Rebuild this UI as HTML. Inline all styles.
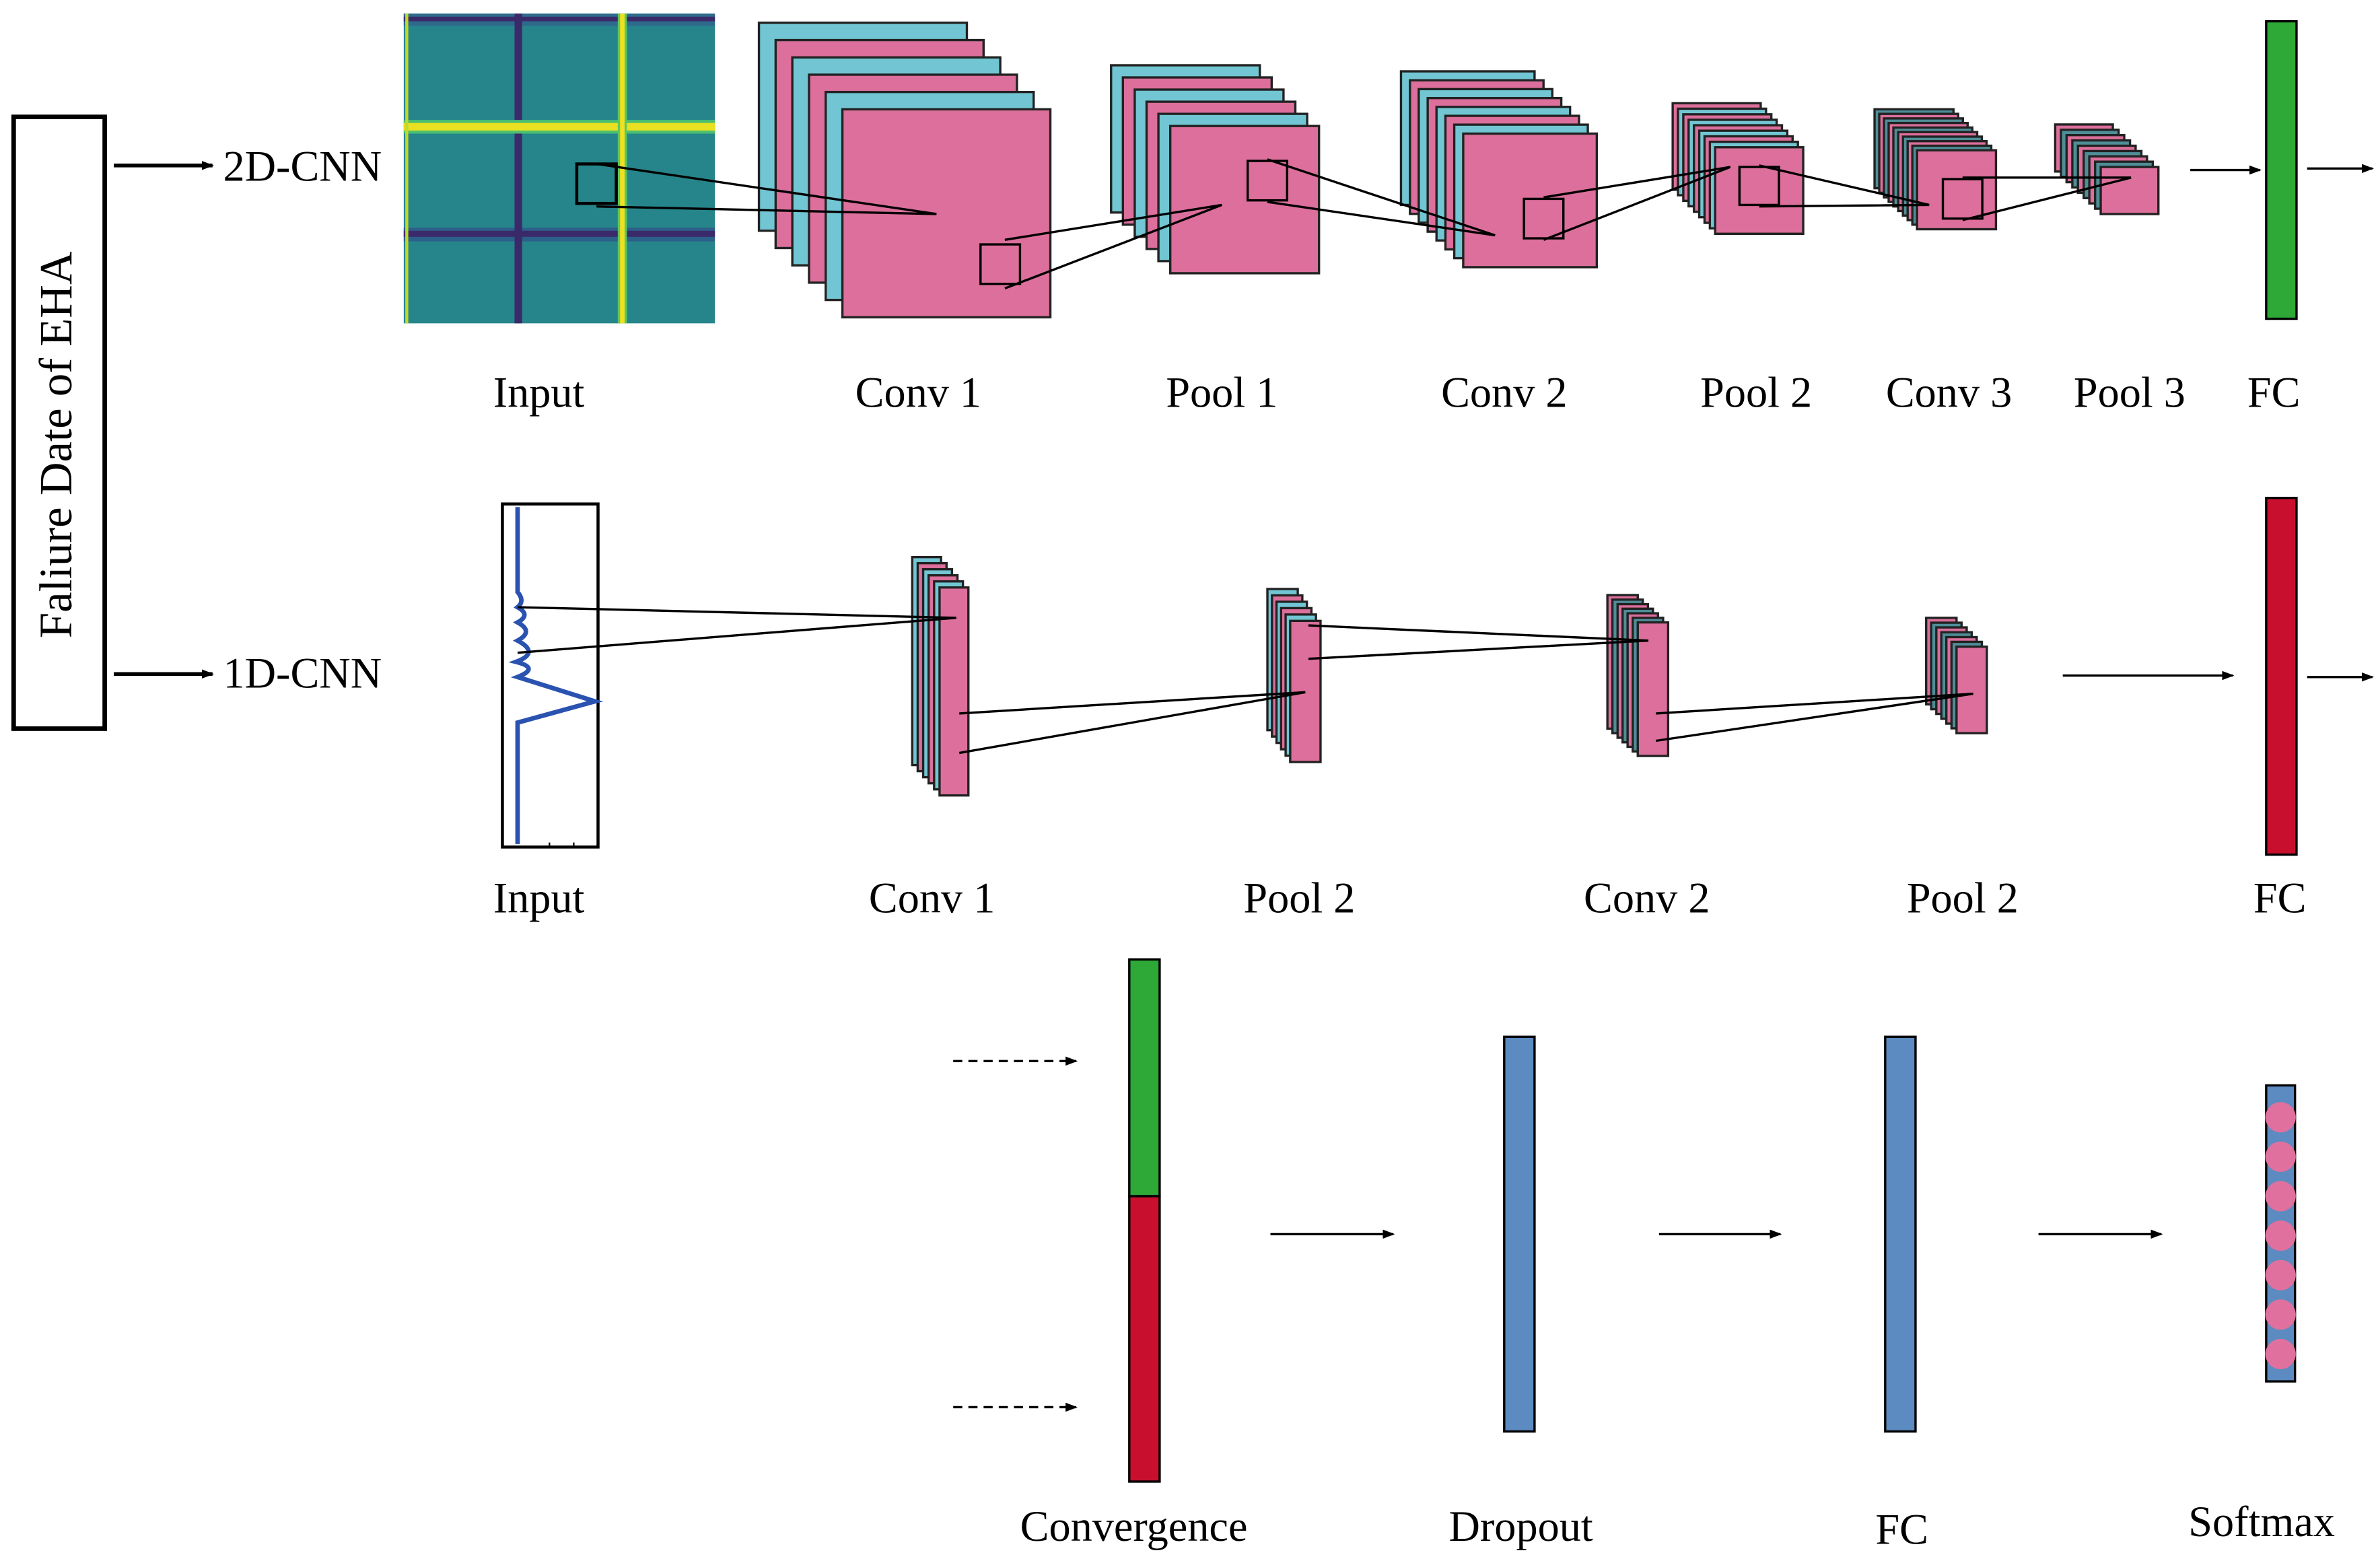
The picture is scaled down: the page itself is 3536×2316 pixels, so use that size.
<!DOCTYPE html>
<html><head><meta charset="utf-8"><style>html,body{margin:0;padding:0;background:#fff}svg{display:block}</style></head>
<body>
<svg id="s" width="3536" height="2316" viewBox="0 0 1568 1027" xmlns="http://www.w3.org/2000/svg" font-family="Liberation Serif, serif" font-size="28.5">
<defs>
<marker id="ar" markerWidth="8" markerHeight="6" refX="7" refY="3" orient="auto" markerUnits="userSpaceOnUse"><path d="M0,0 L8,3 L0,6 z" fill="#000"/></marker>
</defs>
<rect width="1568" height="1027" fill="#fff"/>
<!-- left box -->
<rect x="9" y="77" width="60" height="403" fill="#fff" stroke="#000" stroke-width="3"/>
<text transform="translate(47,293) rotate(-90)" text-anchor="middle" font-size="30.5">Faliure Date of EHA</text>
<line x1="75" y1="109" x2="140" y2="109" stroke="#000" stroke-width="2.5" marker-end="url(#ar)"/>
<line x1="75" y1="444" x2="140" y2="444" stroke="#000" stroke-width="2.5" marker-end="url(#ar)"/>
<text x="147" y="119">2D-CNN</text>
<text x="147" y="453">1D-CNN</text>
<!-- input image -->
<rect x="266" y="9" width="205" height="204" fill="#26858a"/>
<rect x="266" y="9" width="205" height="8" fill="#2f6a8c"/>
<rect x="266" y="150" width="205" height="9" fill="#2c5f8a"/>
<rect x="266" y="152" width="205" height="4" fill="#3b2a6a"/>
<rect x="266" y="11" width="205" height="3" fill="#3b2a6a"/>
<rect x="339" y="9" width="5" height="204" fill="#3b2a6a"/>
<rect x="266" y="79" width="205" height="9" fill="#4cc070"/>
<rect x="266" y="81" width="205" height="5" fill="#e8e020"/>
<rect x="407" y="9" width="6" height="204" fill="#5cc860"/>
<rect x="408.5" y="9" width="3" height="204" fill="#f0e020"/>
<rect x="267" y="9" width="2" height="204" fill="#c0d830"/>
<rect x="380" y="108" width="26" height="26" fill="none" stroke="#000" stroke-width="2"/>
<g id="stacks"></g>
<!-- 1D input -->
<rect x="331" y="332" width="63" height="226" fill="#fff" stroke="#000" stroke-width="2"/>
<path d="M341,334 L341,390 Q346,396 341,400 Q350,405 341,410 Q352,416 341,422 Q356,430 340,436 Q356,440 341,446 L392,462 L341,476 L341,556" fill="none" stroke="#2a52b0" stroke-width="3"/>
<path d="M362,558 v-3 M378,558 v-3" stroke="#000" stroke-width="1"/>
<g stroke="#000" stroke-width="1.5" fill="none">
<path d="M393,108 L617,141 M393,136 L617,141"/>
<rect x="646" y="161" width="26" height="26" stroke-width="1.5"/>
<path d="M662,158 L805,135 M662,190 L805,135"/>
<rect x="822" y="106" width="26" height="26"/>
<path d="M835,105 L985,155 M835,133 L985,155"/>
<rect x="1004" y="131" width="26" height="26"/>
<path d="M1017,130 L1140,110 M1017,158 L1140,110"/>
<rect x="1146" y="110" width="26" height="25"/>
<path d="M1159,109 L1271,135 M1159,136 L1271,135"/>
<rect x="1280" y="118" width="26" height="26"/>
<path d="M1293,117 L1404,117 M1293,145 L1404,117"/>
<path d="M341,400 L630,407 M341,430 L630,407"/>
<path d="M632,470 L860,456 M632,496 L860,456"/>
<path d="M862,412 L1086,422 M862,434 L1086,422"/>
<path d="M1091,470 L1300,457 M1091,488 L1300,457"/>
</g>
<!-- FC 2D -->
<rect x="1493" y="14" width="20" height="196" fill="#2ea836" stroke="#000" stroke-width="1.5"/>
<line x1="1443" y1="112" x2="1489" y2="112" stroke="#000" stroke-width="1.5" marker-end="url(#ar)"/>
<line x1="1520" y1="111" x2="1563" y2="111" stroke="#000" stroke-width="1.5" marker-end="url(#ar)"/>
<!-- FC 1D -->
<rect x="1493" y="328" width="20" height="235" fill="#c8102e" stroke="#000" stroke-width="1.5"/>
<line x1="1359" y1="445" x2="1471" y2="445" stroke="#000" stroke-width="1.5" marker-end="url(#ar)"/>
<line x1="1520" y1="446" x2="1563" y2="446" stroke="#000" stroke-width="1.5" marker-end="url(#ar)"/>
<!-- bottom -->
<rect x="744" y="632" width="20" height="156" fill="#2ea836" stroke="#000" stroke-width="1.5"/>
<rect x="744" y="788" width="20" height="188" fill="#c8102e" stroke="#000" stroke-width="1.5"/>
<line x1="628" y1="699" x2="709" y2="699" stroke="#000" stroke-width="1.5" stroke-dasharray="6,4" marker-end="url(#ar)"/>
<line x1="628" y1="927" x2="709" y2="927" stroke="#000" stroke-width="1.5" stroke-dasharray="6,4" marker-end="url(#ar)"/>
<line x1="837" y1="813" x2="918" y2="813" stroke="#000" stroke-width="1.5" marker-end="url(#ar)"/>
<line x1="1093" y1="813" x2="1173" y2="813" stroke="#000" stroke-width="1.5" marker-end="url(#ar)"/>
<line x1="1343" y1="813" x2="1424" y2="813" stroke="#000" stroke-width="1.5" marker-end="url(#ar)"/>
<rect x="991" y="683" width="20" height="260" fill="#5b8bc0" stroke="#000" stroke-width="1.5"/>
<rect x="1242" y="683" width="20" height="260" fill="#5b8bc0" stroke="#000" stroke-width="1.5"/>
<rect x="1493" y="715" width="19" height="195" fill="#5b8bc0" stroke="#000" stroke-width="1.5"/>
<g fill="#e0709e"><circle cx="1502.5" cy="736" r="10"/><circle cx="1502.5" cy="762" r="10"/><circle cx="1502.5" cy="788" r="10"/><circle cx="1502.5" cy="814" r="10"/><circle cx="1502.5" cy="840" r="10"/><circle cx="1502.5" cy="866" r="10"/><circle cx="1502.5" cy="892" r="10"/></g>
<!-- labels -->
<g text-anchor="middle">
<text x="355" y="268">Input</text><text x="605" y="268">Conv 1</text><text x="805" y="268">Pool 1</text><text x="991" y="268">Conv 2</text><text x="1157" y="268">Pool 2</text><text x="1284" y="268">Conv 3</text><text x="1403" y="268">Pool 3</text><text x="1498" y="268">FC</text>
<text x="355" y="601">Input</text><text x="614" y="601">Conv 1</text><text x="856" y="601">Pool 2</text><text x="1085" y="601">Conv 2</text><text x="1293" y="601">Pool 2</text><text x="1502" y="601">FC</text>
<text x="747" y="1015">Convergence</text><text x="1002" y="1015">Dropout</text><text x="1253" y="1017">FC</text><text x="1490" y="1012">Softmax</text>
</g>
</svg>
<script>
(function(){
var g=document.getElementById('stacks'),h='';
function st(bx,by,fx,fy,w,ht,n,c1,c2){
 for(var i=0;i<n;i++){var t=n==1?1:i/(n-1);var x=bx+(fx-bx)*t,y=by+(fy-by)*t;
  var c=((n-1-i)%2==0)?c1:c2;
  h+='<rect x="'+x.toFixed(1)+'" y="'+y.toFixed(1)+'" width="'+w+'" height="'+ht+'" fill="'+c+'" stroke="#222" stroke-width="1.5"/>';}
}
var P='#dc6f9b',C='#72c6d3',D='#4f8e98';
st(500,15,555,72,137,137,6,P,C);
st(732,43,771,83,98,97,6,P,C);
st(923,47,964,88,88,88,8,P,C);
st(1102,68,1130,97,58,57,9,P,C);
st(1235,72,1263,99,52,52,10,P,D);
st(1354,82,1384,110,38,31,9,P,D);
st(601,367,619,387,19,137,6,P,C);
st(835,388,850,409,20,93,6,P,C);
st(1059,392,1079,410,20,88,7,P,D);
st(1269,407,1289,426,20,57,7,P,D);
g.innerHTML=h;
})();
</script>
</body></html>
